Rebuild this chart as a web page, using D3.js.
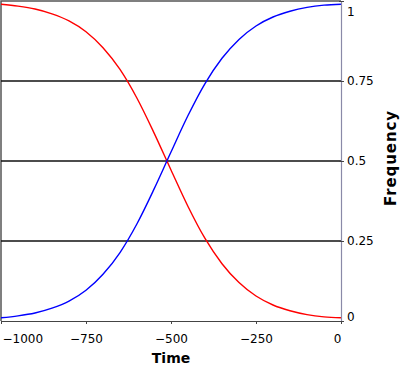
<!DOCTYPE html>
<html>

<head>
  <meta charset="utf-8" />
  <title>Frequency over time</title>
  <style>
    body {
      margin: 0;
      background: #fff;
    }

    svg text {
      font-family: "DejaVu Sans", sans-serif;
    }

    .tick text {
      font-size: 12px;
      fill: #000;
    }

    .title {
      font-size: 14px;
      font-weight: bold;
    }
  </style>
  <script src="https://cdnjs.cloudflare.com/ajax/libs/d3/7.8.5/d3.min.js"></script>
</head>

<body>
  <div id="chart"></div>
  <script>
    // time points every 50 steps
    var times = [-1000, -950, -900, -850, -800, -750, -700, -650, -600, -550, -500,
      -450, -400, -350, -300, -250, -200, -150, -100, -50, 0];
    var blueValues = [0.010, 0.016, 0.025, 0.040, 0.062, 0.096, 0.146, 0.214, 0.304, 0.412, 0.528,
      0.642, 0.742, 0.821, 0.880, 0.922, 0.950, 0.968, 0.980, 0.987, 0.990];
    var redValues = [0.990, 0.984, 0.975, 0.960, 0.938, 0.904, 0.854, 0.786, 0.696, 0.588, 0.472,
      0.358, 0.258, 0.179, 0.120, 0.078, 0.050, 0.032, 0.020, 0.013, 0.010];
    var xTicks = [-1000, -750, -500, -250, 0];
    var yTicks = [0, 0.25, 0.5, 0.75, 1];
    var gridValues = [0.25, 0.5, 0.75];

    var W = 400, H = 365;
    var plotLeft = 1, plotRight = 341, plotTop = 1, plotBottom = 321;

    var x = d3.scaleLinear().domain([-1000, 0]).range([plotLeft, plotRight]);
    var y = d3.scaleLinear().domain([0, 1]).range([plotBottom, plotTop]);

    var svg = d3.select('#chart').append('svg')
      .attr('width', W)
      .attr('height', H);

    // frame top + left
    svg.append('path')
      .attr('d', 'M' + plotLeft + ',' + plotBottom + 'V' + plotTop + 'H' + plotRight)
      .attr('fill', 'none')
      .attr('stroke', '#555')
      .attr('stroke-width', 1.5);

    // gridlines
    svg.selectAll('line.grid')
      .data(gridValues)
      .enter()
      .append('line')
      .attr('class', 'grid')
      .attr('x1', plotLeft)
      .attr('x2', plotRight)
      .attr('y1', d => y(d))
      .attr('y2', d => y(d))
      .attr('stroke', '#111')
      .attr('stroke-width', 1.6);

    var line = d3.line().curve(d3.curveMonotoneX);

    svg.append('path')
      .attr('d', line(times.map((t, i) => [x(t), y(redValues[i])])))
      .attr('fill', 'none')
      .attr('stroke', '#ff0000')
      .attr('stroke-width', 1.4);

    svg.append('path')
      .attr('d', line(times.map((t, i) => [x(t), y(blueValues[i])])))
      .attr('fill', 'none')
      .attr('stroke', '#0000ff')
      .attr('stroke-width', 1.4);

    // bottom axis
    var xAxis = svg.append('g')
      .attr('transform', 'translate(0,' + plotBottom + ')')
      .call(d3.axisBottom(x).tickValues(xTicks).tickSize(3).tickSizeOuter(0)
        .tickFormat(d => d3.format('d')(d).replace('-', '\u2212')));
    xAxis.select('.domain').attr('stroke', '#444').attr('stroke-width', 1.2);
    xAxis.selectAll('.tick line').attr('stroke', '#444');
    xAxis.selectAll('.tick text')
      .attr('y', 13)
      .attr('text-anchor', d => d === -1000 ? 'start' : d === 0 ? 'end' : 'middle')
      .attr('dx', d => d === -1000 ? '1' : 0);

    // right axis
    var yAxis = svg.append('g')
      .attr('transform', 'translate(' + plotRight + ',0)')
      .call(d3.axisRight(y).tickValues(yTicks).tickSize(3).tickSizeOuter(0)
        .tickFormat(d => String(d)));
    yAxis.select('.domain').attr('stroke', '#8a8aa8').attr('stroke-width', 1.2);
    yAxis.selectAll('.tick line').attr('stroke', '#444').attr('x1', -2);
    yAxis.selectAll('.tick text')
      .attr('x', 6)
      .attr('dy', d => d === 1 ? '1.2em' : d === 0 ? '-0.05em' : '0.32em');

    svg.append('text')
      .attr('class', 'title')
      .attr('x', 171)
      .attr('y', 363)
      .attr('text-anchor', 'middle')
      .text('Time');

    svg.append('text')
      .attr('class', 'title')
      .attr('transform', 'translate(396,158) rotate(-90)')
      .attr('text-anchor', 'middle')
      .style('font-size', '15px')
      .style('letter-spacing', '0.9px')
      .text('Frequency');
  </script>
</body>

</html>
